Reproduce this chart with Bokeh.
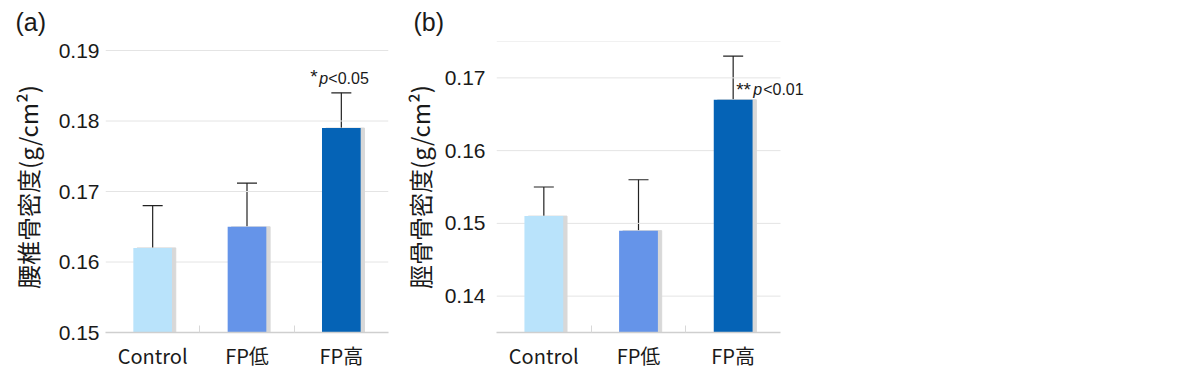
from bokeh.plotting import figure
from bokeh.models import ColumnDataSource, Whisker, TeeHead, Label, FixedTicker, Range1d, Title
from bokeh.layouts import row
from bokeh.embed import file_html
from bokeh.resources import INLINE

categories = ["Control", "FP低", "FP高"]

lumbar_mean = [0.162, 0.165, 0.179]
lumbar_sd = [0.006, 0.0062, 0.005]

tibia_mean = [0.151, 0.149, 0.167]
tibia_sd = [0.004, 0.007, 0.006]

lumbar_ticks = [0.15, 0.16, 0.17, 0.18, 0.19]
tibia_ticks = [0.14, 0.15, 0.16, 0.17]
tibia_grid = [0.14, 0.15, 0.16, 0.17, 0.175]

bar_colors = ["#b9e3fb", "#6594e9", "#0563b6"]

TICK_FONT = "Liberation Sans"
JP_FONT = "Noto Sans CJK JP"

# bars sit at the centre of each category slot on a numeric axis
centers = [i + 0.5 for i in range(len(categories))]
bounds = [i + 1.0 for i in range(len(categories) - 1)]
n_cat = len(categories)


def panel(tag, ylabel, means, sds, y0, y_span_px, ticks, grid_ticks,
          frame_w, extra_px, b_left, b_right, tick_standoff, label_standoff,
          title_offset, ann):
    frame_h = 291
    y1 = y0 + 0.04 * frame_h / y_span_px
    x_end = n_cat * (frame_w + extra_px) / frame_w
    p = figure(x_range=Range1d(0, x_end), y_range=Range1d(y0, y1),
               frame_width=frame_w + extra_px, frame_height=frame_h,
               min_border_left=b_left, min_border_top=20,
               min_border_bottom=26, min_border_right=b_right,
               output_backend="svg", toolbar_location=None)
    upper = [m + s for m, s in zip(means, sds)]
    src = ColumnDataSource(dict(x=centers, val=means, up=upper, color=bar_colors))

    # light grid lines across the category area only
    p.segment(x0=[0] * len(grid_ticks), x1=[n_cat] * len(grid_ticks), y0=grid_ticks,
              y1=grid_ticks, line_color="#e4e4e4", line_width=1)

    shadow = ColumnDataSource(dict(x=[c + 0.04 for c in centers], val=means))
    p.vbar(x="x", top="val", bottom=y0, width=0.41, color="#d8d8d8", source=shadow)
    p.vbar(x="x", top="val", bottom=y0, width=0.41, fill_color="color",
           line_color=None, source=src)
    w = Whisker(source=src, base="x", lower="val", upper="up",
                upper_head=TeeHead(size=20, line_width=1.2, line_color="#222222"),
                lower_head=None, line_width=1.2, line_color="#222222")
    p.add_layout(w)

    p.outline_line_color = None
    p.xgrid.grid_line_color = None
    p.ygrid.grid_line_color = None

    p.yaxis.ticker = FixedTicker(ticks=ticks)
    p.yaxis.axis_line_color = None
    p.yaxis.major_tick_line_color = None
    p.yaxis.minor_tick_line_color = None
    p.yaxis.major_label_text_font = TICK_FONT
    p.yaxis.major_label_text_font_size = "21px"
    p.yaxis.major_label_text_color = "#1a1a1a"
    p.yaxis.major_label_standoff = tick_standoff
    p.yaxis.axis_label = ylabel
    p.yaxis.axis_label_text_font = JP_FONT
    p.yaxis.axis_label_text_font_size = "24px"
    p.yaxis.axis_label_text_font_style = "normal"
    p.yaxis.axis_label_text_color = "#1a1a1a"
    p.yaxis.axis_label_standoff = label_standoff

    p.xaxis.ticker = FixedTicker(ticks=centers, minor_ticks=bounds)
    p.xaxis.major_label_overrides = {c: lab for c, lab in zip(centers, categories)}
    p.xaxis.bounds = (0, n_cat)
    p.xaxis.axis_line_color = "#cfcfcf"
    p.xaxis.axis_line_width = 1.5
    p.xaxis.major_tick_line_color = None
    p.xaxis.minor_tick_line_color = "#d8d8d8"
    p.xaxis.minor_tick_in = 7
    p.xaxis.minor_tick_out = 0
    p.xaxis.major_label_text_font = JP_FONT
    p.xaxis.major_label_text_font_size = "20px"
    p.xaxis.major_label_text_color = "#1a1a1a"
    p.xaxis.major_label_standoff = 2

    t = Title(text=tag, align="left", offset=title_offset, text_font=TICK_FONT,
              text_font_size="25px", text_font_style="normal", text_color="#1a1a1a",
              standoff=11)
    p.add_layout(t, "above")

    idx, yv, yoff, baseline, pieces = ann
    for txt, xo, style, size in pieces:
        p.add_layout(Label(x=centers[idx], y=yv, x_offset=xo, y_offset=yoff, text=txt,
                           text_font=TICK_FONT, text_font_size=size, text_font_style=style,
                           text_color="#1a1a1a", text_align="left", text_baseline=baseline))
    return p


pa = panel("(a)", "腰椎骨密度(g/cm²)", lumbar_mean, lumbar_sd, 0.15, 282,
           lumbar_ticks, lumbar_ticks, 283, 0, 105, 10, 0, 11, -90,
           (2, lumbar_mean[2] + lumbar_sd[2], 6, "bottom",
            [("*", -31, "normal", "19px"), ("p", -22, "italic", "16px"),
             ("<0.05", -13, "normal", "16px")]))

pb = panel("(b)", "脛骨骨密度(g/cm²)", tibia_mean, tibia_sd, 0.135, 291,
           tibia_ticks, tibia_grid, 284, 30, 94, 5, 5, 5, -83,
           (2, tibia_mean[2], 10, "middle",
            [("**", 3, "normal", "19px"), ("p", 20, "italic", "16px"),
             ("<0.01", 30, "normal", "16px")]))

layout = row(pa, pb, spacing=0)
open("out.html", "w").write(file_html(layout, INLINE))
